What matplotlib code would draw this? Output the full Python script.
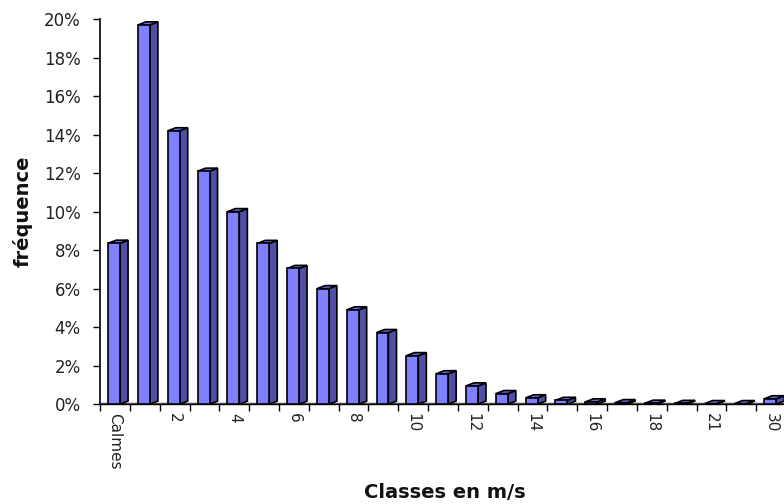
import matplotlib
matplotlib.use("Agg")
import matplotlib.pyplot as plt
from matplotlib.patches import Polygon
from matplotlib.ticker import PercentFormatter, FixedLocator

plt.rcParams['font.family'] = ['DejaVu Sans']

# classes de vitesse du vent (m/s) et fréquences
classes = ["Calmes", "1", "2", "3", "4", "5", "6", "7", "8", "9", "10",
           "11", "12", "13", "14", "15", "16", "17", "18", "20", "21", "25", "30"]
frequences = [0.0836, 0.197, 0.142, 0.121, 0.100, 0.0835, 0.0705, 0.0600,
              0.0490, 0.0372, 0.0252, 0.0158, 0.0095, 0.0055, 0.0033, 0.0020,
              0.0012, 0.0008, 0.0005, 0.0004, 0.0003, 0.0003, 0.0028]

face = "#7f7fff"
cote = "#4f4fa6"
dessus = "#6a6ae0"

fig = plt.figure(figsize=(7.84, 5.04), dpi=100)
ax = fig.add_axes([0.1276, 0.198, 0.875, 0.764])

n = len(classes)
x0 = 0.27   # début de la face avant dans chaque classe
w = 0.40    # largeur de la face avant
dx = 0.27   # profondeur (décalage horizontal)
dy = 0.0016  # profondeur (décalage vertical)

ax.bar([i + x0 for i in range(n)], frequences, width=w, align="edge",
       color=face, edgecolor="black", linewidth=1.2, zorder=3)
for i, v in enumerate(frequences):
    xa = i + x0
    xb = xa + w
    side = Polygon([(xb, 0), (xb + dx, dy), (xb + dx, v + dy), (xb, v)],
                   closed=True, facecolor=cote, edgecolor="black", linewidth=1.2, zorder=2)
    top = Polygon([(xa, v), (xb, v), (xb + dx, v + dy), (xa + dx, v + dy)],
                  closed=True, facecolor=dessus, edgecolor="black", linewidth=1.2, zorder=2)
    ax.add_patch(side)
    ax.add_patch(top)

# plancher
ax.plot([0, n], [0, 0], color="#555555", linewidth=2.5, zorder=1, solid_capstyle="butt")

ax.set_xlim(0, n)
ax.set_ylim(0, 0.20)
ax.set_yticks([k * 0.02 for k in range(11)])
ax.yaxis.set_major_formatter(PercentFormatter(1, decimals=0))

# étiquettes une classe sur deux, centrées dans la classe
ax.set_xticks([i + 0.5 for i in range(0, n, 2)])
ax.set_xticklabels([classes[i] for i in range(0, n, 2)], rotation=-90, fontsize=11)
ax.xaxis.set_minor_locator(FixedLocator(list(range(n + 1))))
ax.tick_params(axis="x", which="major", length=0, pad=6, colors="#222222")
ax.tick_params(axis="x", which="minor", length=5, width=1.0, direction="out")
ax.tick_params(axis="y", length=5, width=1.0, direction="out", labelsize=12, pad=9,
               labelcolor="#222222")

for s in ["top", "right"]:
    ax.spines[s].set_visible(False)
ax.spines["left"].set_linewidth(1.2)
ax.spines["bottom"].set_linewidth(1.0)

ax.set_ylabel("fréquence", fontsize=14, fontweight="bold", labelpad=8, color="#111111")
fig.text(0.567, 0.004, "Classes en m/s", fontsize=14, fontweight="bold",
         ha="center", va="bottom", color="#111111")

fig.savefig("out.png", dpi=100)
